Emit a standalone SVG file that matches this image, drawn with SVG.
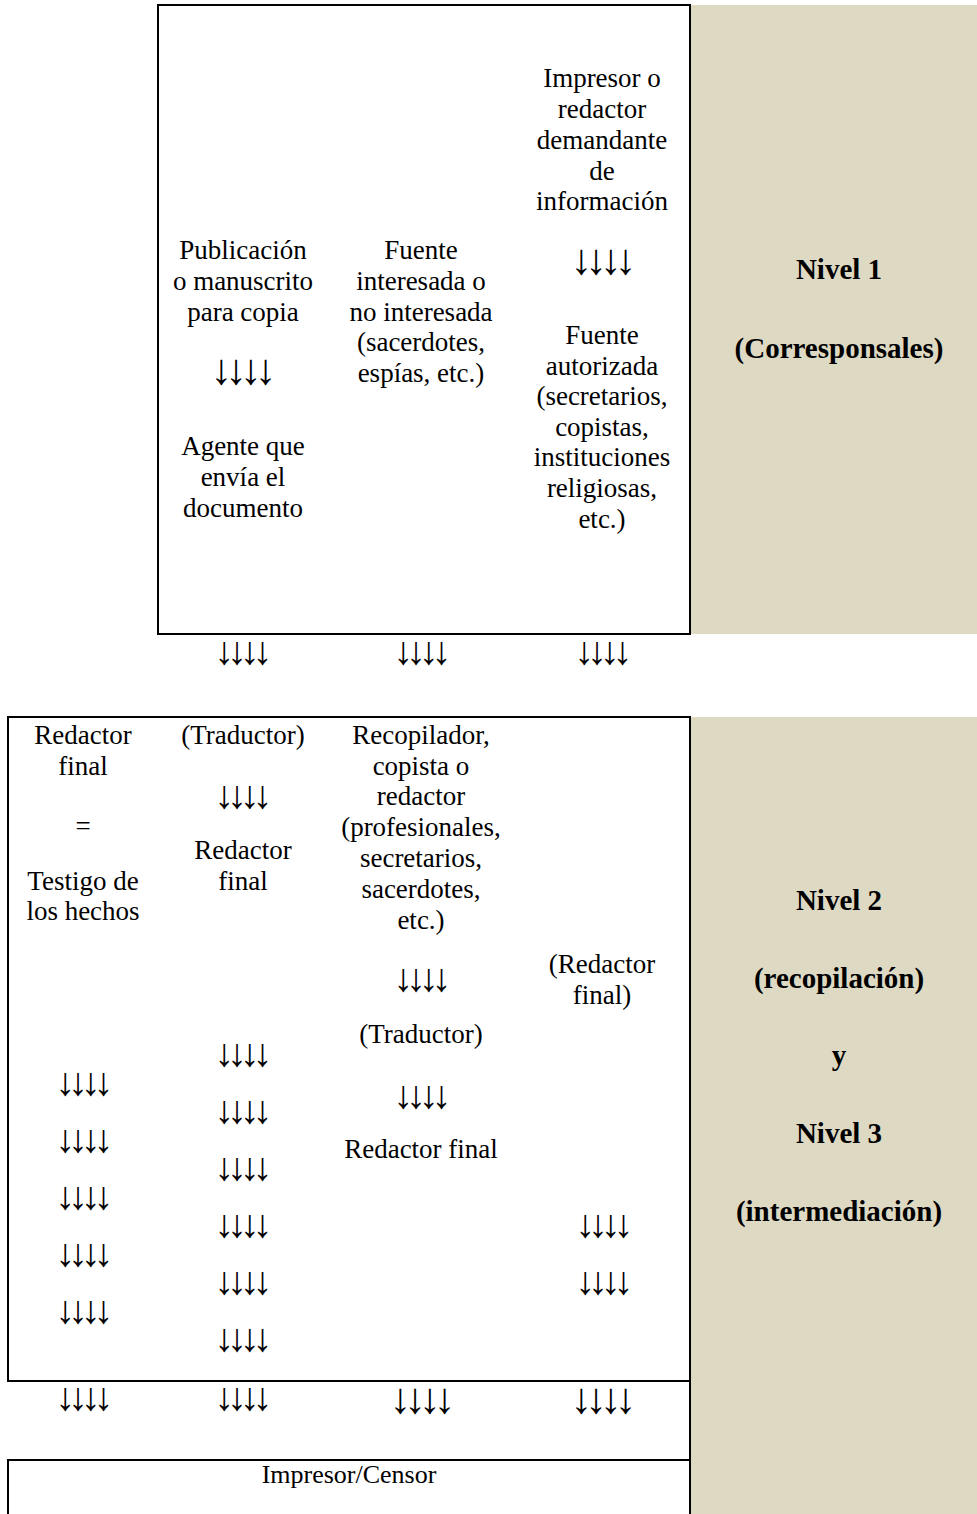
<svg xmlns="http://www.w3.org/2000/svg" width="977" height="1514" viewBox="0 0 977 1514">
<style>
.t{font-family:"Liberation Serif","Times New Roman",serif;font-size:27px;fill:#000;text-anchor:middle}
.b{font-weight:bold;font-size:29px}
.a{font-family:"Liberation Serif","Times New Roman",serif;font-size:43px;letter-spacing:-6.8px;fill:#000;text-anchor:middle}
.s{font-size:39px;letter-spacing:-6.8px}
.ln{fill:none;stroke:#000;stroke-width:2}
.pan{fill:#DDD9C3}
</style>
<rect width="977" height="1514" fill="#fff"/>
<g id="panel1"><rect class="pan" x="691" y="5" width="286" height="629"/>
<text class="t b" x="839" y="279">Nivel 1</text>
<text class="t b" x="839" y="358">(Corresponsales)</text></g>
<g id="panel2"><rect class="pan" x="691" y="717" width="286" height="797"/>
<text class="t b" x="839" y="910">Nivel 2</text>
<text class="t b" x="839" y="988">(recopilación)</text>
<text class="t b" x="839" y="1065">y</text>
<text class="t b" x="839" y="1143">Nivel 3</text>
<text class="t b" x="839" y="1221">(intermediación)</text></g>
<g id="box1"><rect class="ln" x="158" y="5" width="532" height="629"/>
<text class="t" x="243" y="259">Publicación</text>
<text class="t" x="243" y="290">o manuscrito</text>
<text class="t" x="243" y="321">para copia</text>
<text class="a" x="240" y="384">↓↓↓↓</text>
<text class="t" x="243" y="455">Agente que</text>
<text class="t" x="243" y="486">envía el</text>
<text class="t" x="243" y="517">documento</text>
<text class="t" x="421" y="259">Fuente</text>
<text class="t" x="421" y="290">interesada o</text>
<text class="t" x="421" y="321">no interesada</text>
<text class="t" x="421" y="351">(sacerdotes,</text>
<text class="t" x="421" y="382">espías, etc.)</text>
<text class="t" x="602" y="87">Impresor o</text>
<text class="t" x="602" y="118">redactor</text>
<text class="t" x="602" y="149">demandante</text>
<text class="t" x="602" y="180">de</text>
<text class="t" x="602" y="210">información</text>
<text class="a" x="600" y="274">↓↓↓↓</text>
<text class="t" x="602" y="344">Fuente</text>
<text class="t" x="602" y="375">autorizada</text>
<text class="t" x="602" y="405">(secretarios,</text>
<text class="t" x="602" y="436">copistas,</text>
<text class="t" x="602" y="466">instituciones</text>
<text class="t" x="602" y="497">religiosas,</text>
<text class="t" x="602" y="528">etc.)</text></g>
<g id="box2"><path class="ln" d="M8 717H690V1381H8Z"/>
<text class="t" x="83" y="744">Redactor</text>
<text class="t" x="83" y="775">final</text>
<text class="t" x="83" y="835">=</text>
<text class="t" x="83" y="890">Testigo de</text>
<text class="t" x="83" y="920">los hechos</text>
<text class="t" x="243" y="744">(Traductor)</text>
<text class="t" x="243" y="859">Redactor</text>
<text class="t" x="243" y="890">final</text>
<text class="t" x="421" y="744">Recopilador,</text>
<text class="t" x="421" y="775">copista o</text>
<text class="t" x="421" y="805">redactor</text>
<text class="t" x="421" y="836">(profesionales,</text>
<text class="t" x="421" y="867">secretarios,</text>
<text class="t" x="421" y="898">sacerdotes,</text>
<text class="t" x="421" y="929">etc.)</text>
<text class="t" x="421" y="1043">(Traductor)</text>
<text class="t" x="421" y="1158">Redactor final</text>
<text class="t" x="602" y="973">(Redactor</text>
<text class="t" x="602" y="1004">final)</text>
<g class="a s">
<text x="240" y="808">↓↓↓↓</text>
<text x="419" y="991">↓↓↓↓</text>
<text x="419" y="1108">↓↓↓↓</text>
<text x="81" y="1095">↓↓↓↓</text>
<text x="81" y="1152">↓↓↓↓</text>
<text x="81" y="1209">↓↓↓↓</text>
<text x="81" y="1266">↓↓↓↓</text>
<text x="81" y="1323">↓↓↓↓</text>
<text x="240" y="1066">↓↓↓↓</text>
<text x="240" y="1123">↓↓↓↓</text>
<text x="240" y="1180">↓↓↓↓</text>
<text x="240" y="1237">↓↓↓↓</text>
<text x="240" y="1294">↓↓↓↓</text>
<text x="240" y="1351">↓↓↓↓</text>
<text x="601" y="1237">↓↓↓↓</text>
<text x="601" y="1294">↓↓↓↓</text>
</g></g>
<g id="box3"><path class="ln" d="M690 1381V1514M8 1514V1460H690"/>
<text class="t" x="349" y="1483" style="font-size:26px">Impresor/Censor</text></g>
<g id="connectors">
<g class="a s">
<text x="240" y="664">↓↓↓↓</text>
<text x="419" y="664">↓↓↓↓</text>
<text x="600" y="664">↓↓↓↓</text>
<text x="81" y="1410">↓↓↓↓</text>
<text x="240" y="1410">↓↓↓↓</text>
</g>
<text class="a" x="419" y="1413">↓↓↓↓</text>
<text class="a" x="600" y="1413">↓↓↓↓</text>
</g>
</svg>
